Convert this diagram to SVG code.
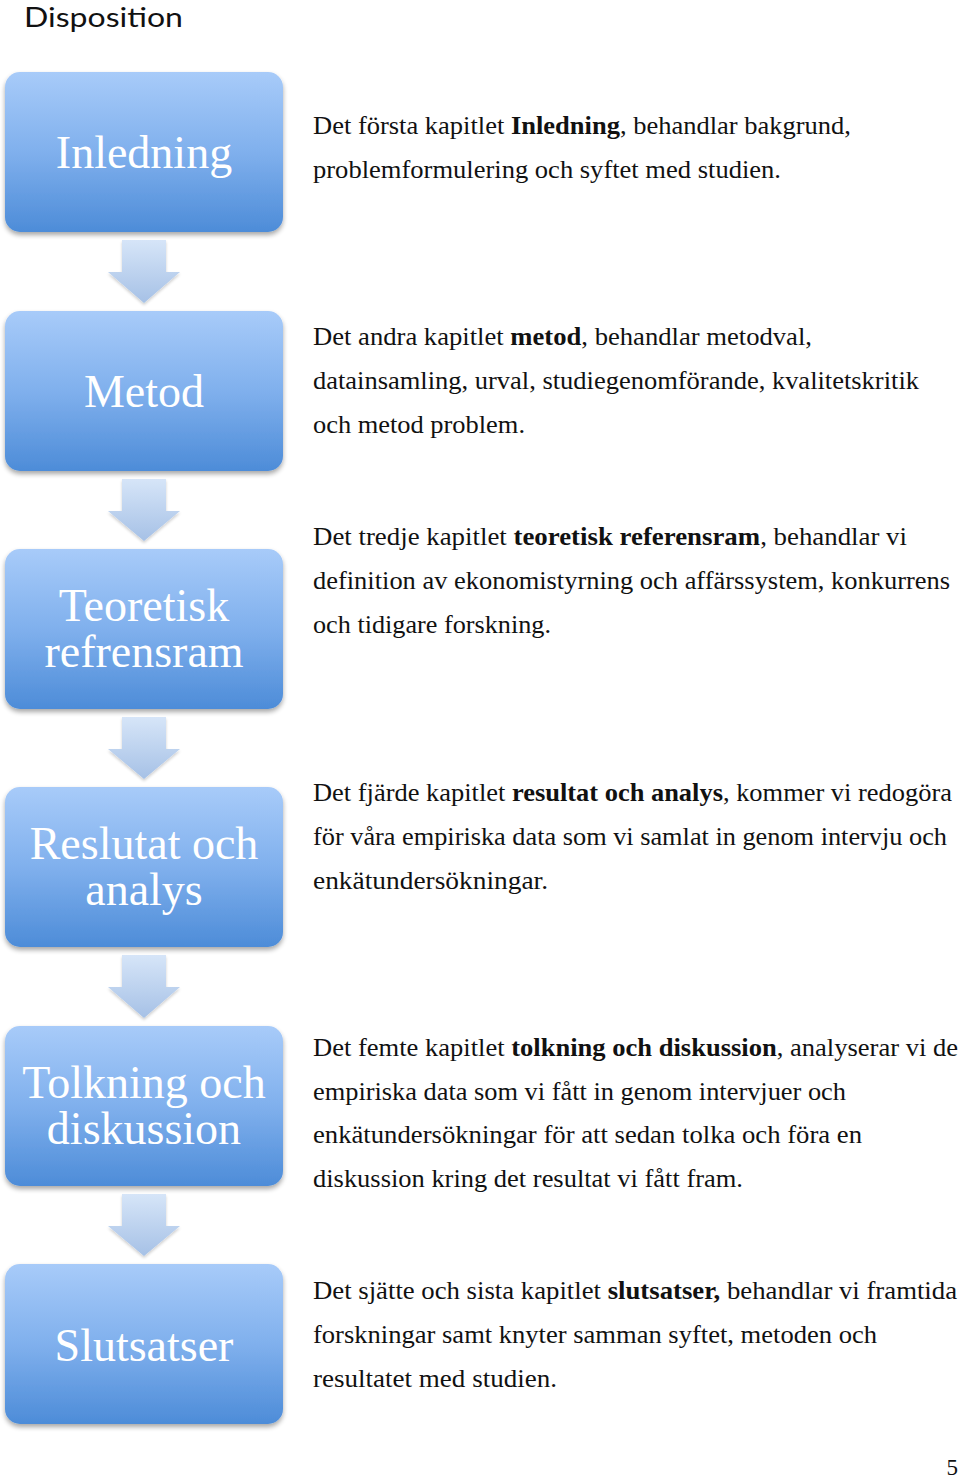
<svg xmlns="http://www.w3.org/2000/svg" width="960" height="1480" viewBox="0 0 960 1480">
<style>
.box{fill:url(#bg);filter:url(#sh)}
.lbl{font-family:"Liberation Serif",serif;font-size:46px;fill:#ffffff;text-anchor:middle}
.body{font-family:"Liberation Serif",serif;font-size:25px;fill:#111111}
.b{font-weight:bold}
.arr{fill:url(#ag);filter:url(#ash)}
.title{font-family:Lato,"Liberation Sans",sans-serif;font-size:27px;fill:#111111}
</style>
<defs>
<linearGradient id="bg" x1="0" y1="0" x2="0" y2="1">
<stop offset="0" stop-color="#a8cbf9"/>
<stop offset="0.5" stop-color="#80b0ed"/>
<stop offset="1" stop-color="#4d8cd8"/>
</linearGradient>
<linearGradient id="ag" x1="0" y1="0" x2="0" y2="1">
<stop offset="0" stop-color="#d6e5f8"/>
<stop offset="1" stop-color="#a6c1e6"/>
</linearGradient>
<filter id="sh" x="-10%" y="-10%" width="120%" height="130%">
<feGaussianBlur in="SourceAlpha" stdDeviation="2.5"/>
<feOffset dy="3" result="o"/>
<feComponentTransfer><feFuncA type="linear" slope="0.35"/></feComponentTransfer>
<feMerge><feMergeNode/><feMergeNode in="SourceGraphic"/></feMerge>
</filter>
<filter id="ash" x="-20%" y="-20%" width="140%" height="150%">
<feGaussianBlur in="SourceAlpha" stdDeviation="1.5"/>
<feOffset dy="2"/>
<feComponentTransfer><feFuncA type="linear" slope="0.2"/></feComponentTransfer>
<feMerge><feMergeNode/><feMergeNode in="SourceGraphic"/></feMerge>
</filter>
</defs>
<rect width="960" height="1480" fill="#ffffff"/>
<text class="title" x="24" y="27" textLength="159" lengthAdjust="spacingAndGlyphs">Disposition</text>

<g id="connectors">
<path class="arr" d="M122,240 H166 V272 H180 L144,303 L108,272 H122 Z"/>
<path class="arr" d="M122,479 H166 V511 H180 L144,541 L108,511 H122 Z"/>
<path class="arr" d="M122,717 H166 V749 H180 L144,779 L108,749 H122 Z"/>
<path class="arr" d="M122,955 H166 V987 H180 L144,1018 L108,987 H122 Z"/>
<path class="arr" d="M122,1194 H166 V1226 H180 L144,1256 L108,1226 H122 Z"/>
</g>

<g id="node-inledning">
<rect class="box" x="5" y="72" width="278" height="160" rx="15"/>
<text class="lbl" x="144" y="168">Inledning</text>
</g>
<g id="node-metod">
<rect class="box" x="5" y="311" width="278" height="160" rx="15"/>
<text class="lbl" x="144" y="407">Metod</text>
</g>
<g id="node-teoretisk">
<rect class="box" x="5" y="549" width="278" height="160" rx="15"/>
<text class="lbl" x="144" y="621">Teoretisk</text>
<text class="lbl" x="144" y="667">refrensram</text>
</g>
<g id="node-resultat">
<rect class="box" x="5" y="787" width="278" height="160" rx="15"/>
<text class="lbl" x="144" y="859">Reslutat och</text>
<text class="lbl" x="144" y="905">analys</text>
</g>
<g id="node-tolkning">
<rect class="box" x="5" y="1026" width="278" height="160" rx="15"/>
<text class="lbl" x="144" y="1098">Tolkning och</text>
<text class="lbl" x="144" y="1144">diskussion</text>
</g>
<g id="node-slutsatser">
<rect class="box" x="5" y="1264" width="278" height="160" rx="15"/>
<text class="lbl" x="144" y="1361">Slutsatser</text>
</g>

<g id="descriptions">
<text class="body" x="313" y="134" textLength="538" lengthAdjust="spacingAndGlyphs">Det första kapitlet <tspan class="b">Inledning</tspan>, behandlar bakgrund,</text>
<text class="body" x="313" y="178" textLength="468" lengthAdjust="spacingAndGlyphs">problemformulering och syftet med studien.</text>

<text class="body" x="313" y="345" textLength="499" lengthAdjust="spacingAndGlyphs">Det andra kapitlet <tspan class="b">metod</tspan>, behandlar metodval,</text>
<text class="body" x="313" y="389" textLength="606" lengthAdjust="spacingAndGlyphs">datainsamling, urval, studiegenomförande, kvalitetskritik</text>
<text class="body" x="313" y="433" textLength="212" lengthAdjust="spacingAndGlyphs">och metod problem.</text>

<text class="body" x="313" y="545" textLength="594" lengthAdjust="spacingAndGlyphs">Det tredje kapitlet <tspan class="b">teoretisk referensram</tspan>, behandlar vi</text>
<text class="body" x="313" y="589" textLength="637" lengthAdjust="spacingAndGlyphs">definition av ekonomistyrning och affärssystem, konkurrens</text>
<text class="body" x="313" y="633" textLength="238" lengthAdjust="spacingAndGlyphs">och tidigare forskning.</text>

<text class="body" x="313" y="801" textLength="639" lengthAdjust="spacingAndGlyphs">Det fjärde kapitlet <tspan class="b">resultat och analys</tspan>, kommer vi redogöra</text>
<text class="body" x="313" y="845" textLength="634" lengthAdjust="spacingAndGlyphs">för våra empiriska data som vi samlat in genom intervju och</text>
<text class="body" x="313" y="889" textLength="235" lengthAdjust="spacingAndGlyphs">enkätundersökningar.</text>

<text class="body" x="313" y="1056" textLength="645" lengthAdjust="spacingAndGlyphs">Det femte kapitlet <tspan class="b">tolkning och diskussion</tspan>, analyserar vi de</text>
<text class="body" x="313" y="1100" textLength="533" lengthAdjust="spacingAndGlyphs">empiriska data som vi fått in genom intervjuer och</text>
<text class="body" x="313" y="1143" textLength="549" lengthAdjust="spacingAndGlyphs">enkätundersökningar för att sedan tolka och föra en</text>
<text class="body" x="313" y="1187" textLength="430" lengthAdjust="spacingAndGlyphs">diskussion kring det resultat vi fått fram.</text>

<text class="body" x="313" y="1299" textLength="644" lengthAdjust="spacingAndGlyphs">Det sjätte och sista kapitlet <tspan class="b">slutsatser,</tspan> behandlar vi framtida</text>
<text class="body" x="313" y="1343" textLength="564" lengthAdjust="spacingAndGlyphs">forskningar samt knyter samman syftet, metoden och</text>
<text class="body" x="313" y="1387" textLength="244" lengthAdjust="spacingAndGlyphs">resultatet med studien.</text>
</g>

<text class="body" x="958" y="1475" text-anchor="end" style="font-size:23px">5</text>
</svg>
